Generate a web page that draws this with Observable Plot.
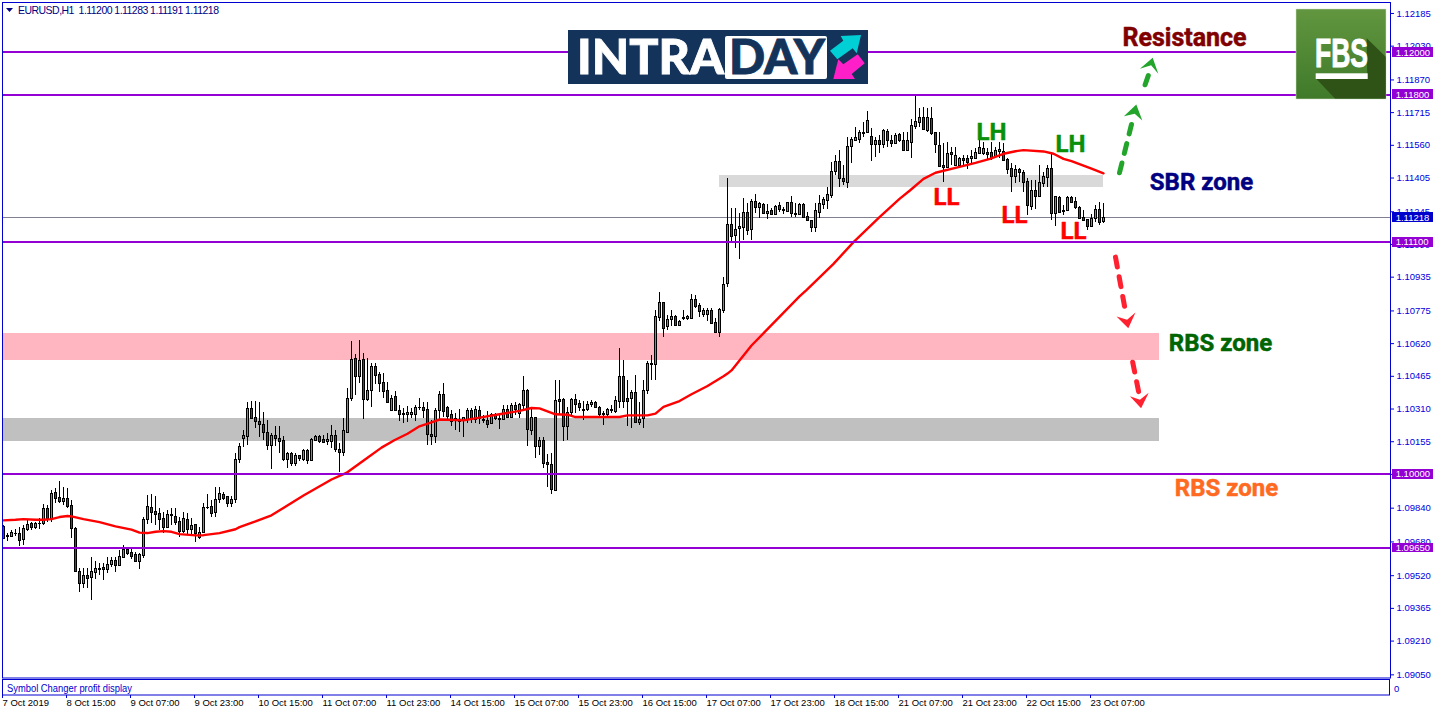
<!DOCTYPE html>
<html><head><meta charset="utf-8">
<script src="https://cdn.jsdelivr.net/npm/d3@7"></script>
<script src="https://cdn.jsdelivr.net/npm/@observablehq/plot@0.6"></script>
<style>html,body{margin:0;padding:0;background:#fff;width:1436px;height:716px;overflow:hidden}#wrap{position:relative;width:1436px;height:716px}#wrap svg{position:absolute;left:0;top:0;background:transparent}</style>
</head><body><div id="wrap"></div>
<script>
// Prices are in points above 1.00000 (11218 = 1.11218). Bars are hourly, numbered from 0.
const opens=[9754,9709,9708,9719,9719,9690,9741,9769,9750,9768,
9766,9837,9790,9913,9889,9874,9885,9853,9742,9542,
9482,9520,9510,9537,9551,9558,9547,9575,9592,9570,
9605,9645,9629,9621,9589,9616,9785,9842,9823,9814,
9790,9747,9807,9799,9779,9731,9787,9738,9761,9703,
9727,9844,9848,9818,9880,9905,9893,9864,9880,10070,
10168,10181,10312,10269,10250,10236,10201,10135,10184,10170,
10160,10073,10098,10054,10089,10073,10114,10064,10162,10179,
10165,10158,10158,10184,10117,10102,10201,10358,10549,10462,
10544,10353,10397,10511,10474,10435,10397,10301,10369,10304,
10283,10285,10286,10286,10315,10316,10307,10188,10182,10302,
10378,10316,10283,10264,10253,10256,10260,10304,10260,10304,
10255,10256,10241,10285,10261,10260,10307,10269,10326,10288,
10329,10399,10209,10269,10130,10162,10056,10048,9925,10354,
10356,10225,10293,10356,10335,10301,10307,10332,10339,10316,
10288,10282,10301,10296,10348,10465,10359,10358,10388,10244,
10264,10397,10519,10519,10746,10814,10699,10732,10748,10708,
10740,10740,10741,10828,10802,10759,10759,10778,10719,10672,
10775,10904,11183,11134,11164,11172,11242,11160,11292,11267,
11280,11239,11250,11232,11273,11251,11248,11288,11234,11234,
11280,11221,11204,11172,11243,11278,11299,11324,11436,11482,
11401,11386,11553,11583,11589,11618,11619,11600,11566,11583,
11562,11624,11583,11570,11613,11581,11537,11575,11651,11670,
11690,11632,11686,11619,11559,11463,11453,11526,11465,11466,
11496,11496,11498,11499,11523,11523,11526,11526,11507,11531,
11532,11491,11449,11414,11444,11433,11387,11270,11346,11319,
11381,11409,11449,11239,11314,11245,11251,11313,11292,11265,
11216,11207,11177,11212,11254,11200];
const closes=[9695,9705,9724,9720,9687,9742,9761,9750,9766,9766,
9837,9790,9908,9885,9872,9885,9850,9742,9542,9482,
9520,9509,9539,9553,9556,9547,9575,9591,9570,9610,
9645,9627,9611,9589,9619,9785,9847,9821,9812,9788,
9747,9809,9809,9774,9731,9790,9738,9757,9719,9727,
9845,9845,9817,9880,9908,9888,9864,9880,10070,10130,
10184,10312,10266,10249,10237,10201,10135,10184,10168,10154,
10073,10098,10054,10089,10076,10114,10064,10165,10179,10154,
10152,10165,10184,10116,10102,10207,10359,10544,10462,10539,
10354,10397,10511,10471,10433,10395,10343,10359,10301,10286,
10288,10293,10294,10316,10316,10305,10187,10181,10304,10378,
10299,10275,10249,10263,10260,10271,10302,10264,10307,10264,
10260,10237,10283,10264,10267,10307,10269,10326,10307,10332,
10399,10211,10269,10130,10162,10054,10045,9928,10351,10348,
10225,10293,10354,10332,10315,10307,10331,10343,10316,10282,
10282,10307,10307,10350,10465,10345,10348,10388,10244,10261,
10397,10525,10525,10749,10814,10694,10734,10748,10704,10727,
10746,10748,10830,10798,10770,10778,10778,10715,10672,10781,
10899,11183,11130,11160,11175,11242,11156,11294,11267,11283,
11239,11245,11232,11270,11258,11254,11288,11235,11235,11278,
11220,11202,11172,11250,11283,11302,11325,11434,11482,11401,
11390,11553,11586,11596,11621,11621,11676,11566,11583,11566,
11629,11583,11570,11608,11581,11537,11581,11653,11671,11690,
11634,11690,11615,11562,11460,11453,11520,11515,11512,11496,
11488,11479,11507,11526,11548,11547,11518,11504,11534,11539,
11490,11447,11414,11444,11431,11384,11273,11346,11319,11382,
11412,11449,11239,11318,11240,11251,11313,11291,11264,11215,
11202,11177,11213,11254,11196,11218];
const highs=[9758,9719,9735,9738,9747,9758,9782,9774,9774,9790,
9858,9853,9924,9932,9967,9940,9932,9877,9750,9553,
9553,9553,9605,9585,9577,9577,9605,9605,9605,9640,
9663,9648,9648,9632,9624,9798,9901,9905,9896,9837,
9821,9829,9837,9837,9798,9821,9814,9790,9761,9747,
9861,9905,9877,9937,9940,9916,9896,9893,10098,10146,
10209,10343,10346,10346,10339,10293,10256,10193,10225,10225,
10181,10106,10106,10098,10091,10117,10117,10170,10185,10185,
10185,10193,10233,10209,10146,10264,10406,10631,10569,10636,
10572,10549,10525,10525,10485,10478,10438,10375,10391,10327,
10312,10320,10312,10327,10359,10339,10343,10256,10312,10391,
10430,10320,10304,10288,10307,10272,10312,10312,10320,10323,
10280,10299,10288,10288,10280,10328,10328,10335,10343,10335,
10465,10402,10312,10272,10177,10177,10095,10098,10446,10446,
10359,10316,10359,10380,10351,10348,10346,10351,10348,10320,
10296,10312,10328,10367,10596,10541,10446,10399,10470,10343,
10446,10533,10565,10778,10862,10817,10754,10778,10754,10730,
10778,10754,10854,10849,10809,10786,10786,10786,10738,10786,
10932,11401,11259,11259,11235,11307,11286,11302,11327,11291,
11283,11280,11259,11275,11291,11267,11291,11318,11283,11283,
11283,11243,11204,11286,11322,11314,11362,11480,11512,11536,
11465,11599,11599,11643,11630,11670,11720,11641,11599,11607,
11634,11634,11607,11615,11618,11622,11622,11681,11796,11733,
11741,11733,11741,11622,11622,11567,11575,11548,11551,11504,
11512,11512,11536,11544,11583,11575,11544,11575,11548,11575,
11567,11496,11472,11465,11449,11441,11401,11393,11393,11465,
11433,11465,11523,11318,11318,11275,11318,11318,11314,11270,
11251,11207,11232,11275,11291,11283];
const lows=[9692,9682,9703,9708,9656,9664,9730,9735,9739,9738,
9758,9774,9774,9861,9861,9853,9837,9698,9537,9442,
9458,9458,9400,9501,9521,9498,9529,9561,9537,9569,
9603,9616,9596,9584,9551,9603,9763,9766,9758,9735,
9719,9742,9758,9758,9703,9719,9711,9711,9675,9690,
9719,9833,9798,9798,9861,9877,9842,9842,9864,10051,
10127,10138,10260,10220,10177,10162,10114,10024,10130,10098,
10059,10030,10038,10038,10059,10059,10048,10064,10154,10146,
10146,10138,10122,10103,10008,10086,10193,10348,10375,10433,
10261,10348,10316,10425,10386,10359,10339,10296,10296,10249,
10241,10245,10264,10253,10304,10264,10138,10138,10146,10249,
10269,10256,10225,10209,10201,10177,10241,10241,10241,10237,
10241,10217,10237,10256,10214,10256,10264,10264,10280,10264,
10304,10130,10185,10075,10091,10027,9940,9904,9917,10280,
10154,10162,10280,10288,10296,10256,10296,10315,10312,10272,
10233,10272,10288,10291,10312,10312,10225,10217,10241,10233,
10217,10380,10446,10446,10727,10651,10680,10699,10704,10707,
10730,10730,10738,10786,10746,10746,10723,10710,10667,10648,
10762,10888,11093,11070,11017,11109,11133,11109,11235,11212,
11232,11207,11231,11232,11243,11232,11248,11216,11220,11232,
11216,11201,11149,11149,11212,11254,11254,11307,11417,11362,
11370,11357,11472,11583,11567,11599,11615,11485,11504,11520,
11544,11551,11548,11567,11575,11532,11532,11499,11634,11646,
11630,11622,11607,11520,11453,11386,11449,11465,11460,11465,
11460,11444,11465,11496,11520,11512,11488,11488,11504,11496,
11488,11422,11338,11378,11386,11338,11228,11251,11254,11314,
11359,11362,11204,11177,11235,11228,11248,11286,11254,11212,
11201,11156,11175,11196,11180,11191];

// Moving average, read at the bars where the curve changes
const maBars=[0,3,5,8,10,12,14,16,17,20,24,28,32,34,36,38,40,42,44,48,50,54,58,59,63,67,75,82,85.7,90.3,94.5,97.7,101,104,106.6,109,115,119,124,129,132,134,136,138,141,143,149,154,156,161,163,165,169,172,176,180,181,182,187,199,200.8,207.5,212.5,219,224,226.6,230,233,238,243,246.6,250,253,255,260,262.5,265,267,272,275];
const maValues=[9782,9785,9788,9785,9785,9788,9798,9803,9801,9788,9774,9754,9738,9724,9722,9728,9731,9728,9717,9711,9712,9722,9740,9750,9777,9806,9900,9976,10007,10070,10127,10162,10193,10228,10244,10260,10256,10269,10285,10301,10315,10313,10299,10285,10283,10272,10272,10272,10280,10280,10288,10320,10348,10380,10419,10465,10478,10493,10611,10844,10875,10998,11101,11220,11306,11346,11401,11430,11453,11477,11496,11520,11532,11537,11531,11520,11496,11485,11449,11427];

const levels=[12000,11800,11100,10000,9650];
const currentPrice=[11218];
const yTicks=[12185,12030,11870,11715,11560,11405,11245,11090,10935,10775,10620,10465,10310,10155,10000,9840,9680,9520,9365,9210,9050];
const xTickLabels=["7 Oct 2019","8 Oct 15:00","9 Oct 07:00","9 Oct 23:00","10 Oct 15:00","11 Oct 07:00","11 Oct 23:00","14 Oct 15:00","15 Oct 07:00","15 Oct 23:00","16 Oct 15:00","17 Oct 07:00","17 Oct 23:00","18 Oct 15:00","21 Oct 07:00","21 Oct 23:00","22 Oct 15:00","23 Oct 07:00"];
const xTickBars=[0,16,32,48,64,80,96,112,128,144,160,176,192,208,224,240,256,272];

const zoneFrom=[-0.25,-0.25,179];
const zoneTo=[289,289,275];
const zoneHigh=[10668,10265,11417];
const zoneLow=[10540,10156,11360];
const zoneFill=["#ffb6c1","#c0c0c0","#d9d9d9"];

const noteText=["Resistance","SBR zone","RBS zone","RBS zone","LH","LH","LL","LL","LL"];
const noteBar=[295.25,299.5,304.25,305.75,247,266.75,235.75,252.75,267.5];
const notePrice=[12071,11384,10621,9934,11621,11564,11313,11228,11152];
const noteColor=["#800000","#000080","#006400","#ff6a22","#0a8f0a","#0a8f0a","#ff0000","#ff0000","#ff0000"];
const noteSize=[25,24,24,24,24,24,24,24,24];

const greenDashes=[[[279,11430],[282,11659]],[[285.4,11847],[286.2,11891]]];
const greenHeads=[[[283.2,11754],[280.1,11698],[282.8,11710],[284.7,11678]],[[287.3,11975],[284.1,11923],[286.9,11939],[288.7,11899]]];
const redDashes=[[[278,11030],[280.3,10793]],[[282.3,10532],[283.8,10390]]];
const redHeads=[[[278.25,10749],[280.9,10733],[283,10768],[281.2,10693]],[[281.6,10371],[284.1,10354],[286.3,10387],[284.4,10314]]];

const fmt=v=>(1+v/1e5).toFixed(5);
const blue="#0000d0", purple="#9400d3";
const bars=opens.map((o,i)=>({i,o,c:closes[i],h:highs[i],l:lows[i]}));
const zones=zoneFrom.map((a,i)=>({a,b:zoneTo[i],hi:zoneHigh[i],lo:zoneLow[i],f:zoneFill[i]}));
const ma=maBars.map((x,i)=>({x,y:maValues[i]}));
const notes=noteText.map((t,i)=>({t,x:noteBar[i],y:notePrice[i],c:noteColor[i],s:noteSize[i]}));
const tagH=21;
const tagLeft=347.25, tagRight=357.5;
const tags=[...levels.map(v=>({v,f:purple})),...currentPrice.map(v=>({v,f:"#0000cd"}))];
const dashMark=(segs,color)=>segs.map(s=>Plot.line(s,{x:"0",y:"1",stroke:color,strokeWidth:5,strokeDasharray:"10 10"}));
const headMark=(hs,color)=>hs.map(s=>Plot.line(s,{x:"0",y:"1",fill:color,stroke:"none"}));

const chart=Plot.plot({
  width:1436,height:716,marginLeft:2,marginRight:46,marginTop:2,marginBottom:38.5,
  style:{background:"#fff",fontFamily:"'Liberation Sans',sans-serif",overflow:"visible"},
  x:{domain:[-0.25,346.75],range:[2,1390]},
  y:{domain:[9035,12237],range:[677.5,2]},
  marks:[
    Plot.rect(zones,{x1:"a",x2:"b",y1:"lo",y2:"hi",fill:"f",shapeRendering:"crispEdges"}),
    Plot.ruleY(currentPrice,{stroke:"#808090",strokeWidth:1,shapeRendering:"crispEdges"}),
    Plot.ruleX(bars,{x:"i",y1:"l",y2:"h",stroke:"#000",strokeWidth:1,shapeRendering:"crispEdges"}),
    Plot.rect(bars,{x1:d=>d.i-0.25,x2:d=>d.i+0.25,y1:d=>Math.min(d.o,d.c),y2:d=>Math.max(d.o,d.c),
      fill:d=>d.c>=d.o?"#1fd11f":"#c81414",stroke:"#000",strokeWidth:1,dx:0.5,dy:0.5,shapeRendering:"crispEdges"}),
    Plot.line(ma,{x:"x",y:"y",stroke:"#ff0000",strokeWidth:2.4,curve:"linear"}),
    Plot.ruleY(levels,{stroke:purple,strokeWidth:2,shapeRendering:"crispEdges"}),
    ...dashMark(greenDashes,"#22a52a"),...headMark(greenHeads,"#22a52a"),
    ...dashMark(redDashes,"#ff2030"),...headMark(redHeads,"#ff2030"),
    Plot.text(notes,{x:"x",y:"y",text:"t",fill:"c",stroke:"c",strokeWidth:0.5,fontFamily:"Roboto",fontWeight:700,fontSize:"s"}),
    Plot.frame({stroke:blue,strokeWidth:1}),
    Plot.axisY(yTicks,{anchor:"right",label:null,tickSize:3,tickPadding:3,tickFormat:fmt,color:"#0000e0",fontSize:9.5}),
    Plot.axisX(xTickBars,{anchor:"bottom",label:null,dy:17.5,tickSize:3,tickPadding:1,textAnchor:"start",dx:-1,
      tickFormat:(d,i)=>xTickLabels[xTickBars.indexOf(d)],color:"#000",stroke:blue,fontSize:9.5}),
    Plot.rect(tags,{x1:()=>tagLeft,x2:()=>tagRight,y1:d=>d.v-tagH-1,y2:d=>d.v+tagH+2,fill:"f",shapeRendering:"crispEdges"}),
    Plot.text(tags,{x:()=>tagLeft+0.8,y:"v",text:d=>fmt(d.v),fill:"#fff",textAnchor:"start",fontSize:9.5})
  ]
});
document.getElementById("wrap").appendChild(chart);

const overlay=`<svg xmlns="http://www.w3.org/2000/svg" width="1436" height="716" style="pointer-events:none">
<defs><linearGradient id="fg" x1="0" y1="0" x2="0" y2="1"><stop offset="0" stop-color="#62963f"/><stop offset="1" stop-color="#3f7a2a"/></linearGradient></defs>
<polygon points="6,8 13,8 9.5,12" fill="#000080"/>
<text x="18" y="14" font-family="Liberation Sans" font-size="10.5" fill="#000080" textLength="201" lengthAdjust="spacing" xml:space="preserve">EURUSD,H1  1.11200 1.11283 1.11191 1.11218</text>
<rect x="2.5" y="679.5" width="1387" height="15.5" fill="#fff" stroke="${blue}"/>
<text x="7" y="692" font-family="Liberation Sans" font-size="10" fill="#0000d0" textLength="125" lengthAdjust="spacingAndGlyphs">Symbol Changer profit display</text>
<text x="1394" y="692" font-family="Liberation Sans" font-size="9.5" fill="#0000d0">0</text>
<rect x="568" y="30" width="300" height="54" fill="#14335a"/>
<text x="577" y="74" font-family="Lato" font-weight="900" font-size="48" fill="#fff" stroke="#fff" stroke-width="0.8" textLength="147" lengthAdjust="spacingAndGlyphs">INTRA</text>
<rect x="725" y="36" width="102" height="43" rx="2" fill="#fff"/>
<text x="729" y="74" font-family="Lato" font-weight="900" font-size="48" fill="#14335a" stroke="#14335a" stroke-width="0.8" textLength="96" lengthAdjust="spacingAndGlyphs">DAY</text>
<polygon points="830,50.7 843.3,40.7 840.7,36 861,35 856.7,53.3 852.7,48.3 837.3,59.3" fill="#00cfd5"/>
<polygon points="857.7,54.3 864.7,63.3 851.7,74 855,79 833.3,79 838.3,59.3 843.3,64.3" fill="#ff1fc8"/>
<rect x="1296" y="9" width="90" height="90" fill="url(#fg)" stroke="#d5e3cc" stroke-width="0.5"/>
<polygon points="1315.7,78.3 1335,98.6 1385.7,98.6 1385.7,56.7 1366.7,38.3 1367.3,78.3" fill="#2f5217"/>
<text x="1315" y="67" font-family="Liberation Sans Narrow, Liberation Sans" font-weight="700" font-size="41" fill="#fff" stroke="#fff" stroke-width="1" textLength="53" lengthAdjust="spacingAndGlyphs">FBS</text>
<rect x="1315.7" y="73.3" width="52" height="5.7" fill="#fff"/>
</svg>`;
document.getElementById("wrap").insertAdjacentHTML("beforeend",overlay);
</script></body></html>
